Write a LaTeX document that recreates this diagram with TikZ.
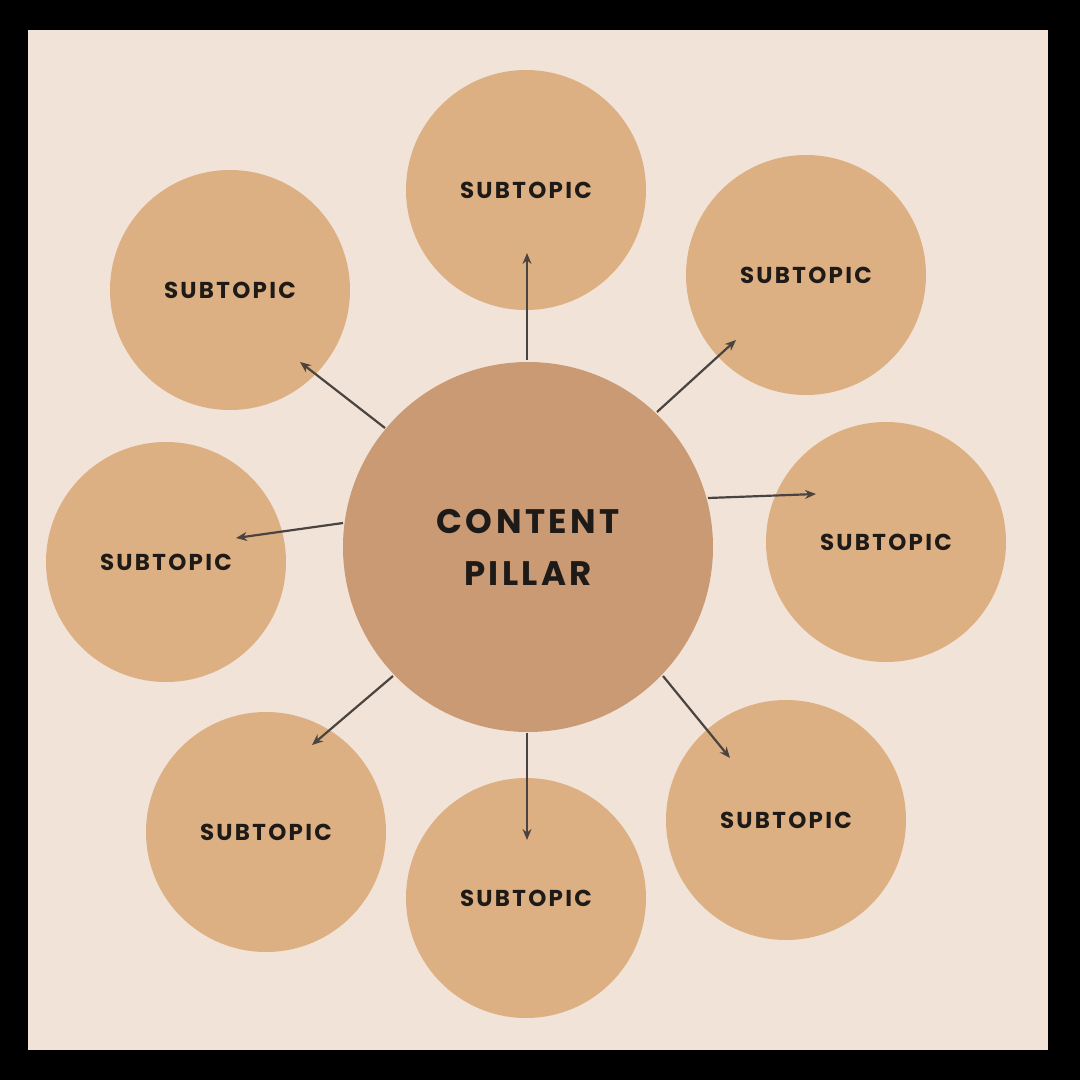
\documentclass[tikz,border=0pt]{standalone}
\usepackage{fontspec}
\newfontfamily\lblfont[LetterSpace=10]{Poppins}
\definecolor{bgc}{HTML}{F2E3D8}
\definecolor{subc}{HTML}{DDB083}
\definecolor{mainc}{HTML}{C99A74}
\definecolor{arrc}{HTML}{4A4440}
\definecolor{txtc}{HTML}{1E1A18}
\usetikzlibrary{arrows.meta}
\tikzset{
 sub/.style={circle,fill=subc,minimum size=240pt,inner sep=0pt,font=\lblfont\bfseries\fontsize{23}{27}\selectfont,text=txtc},
 pillar/.style={circle,fill=mainc,minimum size=370pt,inner sep=0pt,align=center,font=\lblfont\bfseries\fontsize{34}{52}\selectfont,text=txtc},
 conn/.style={draw=arrc,line width=2.2pt,-{Stealth[length=11pt,width=9pt]}}
}
\begin{document}
\begin{tikzpicture}[x=1pt,y=-1pt]
\fill[black] (0,0) rectangle (1080,1080);
\fill[bgc] (28,30) rectangle (1048,1050);
\useasboundingbox (0,0) rectangle (1080,1080);
\node[pillar] (c) at (528,547) {CONTENT\\PILLAR};
\node[sub] (s1) at (526,190) {SUBTOPIC};
\node[sub] (s2) at (806,275) {SUBTOPIC};
\node[sub] (s3) at (886,542) {SUBTOPIC};
\node[sub] (s4) at (786,820) {SUBTOPIC};
\node[sub] (s5) at (526,898) {SUBTOPIC};
\node[sub] (s6) at (266,832) {SUBTOPIC};
\node[sub] (s7) at (166,562) {SUBTOPIC};
\node[sub] (s8) at (230,290) {SUBTOPIC};
\coordinate (e1) at (527,253);
\coordinate (e2) at (736,340);
\coordinate (e3) at (816,494);
\coordinate (e4) at (730,758);
\coordinate (e5) at (527,840);
\coordinate (e6) at (312,745);
\coordinate (e7) at (236,538);
\coordinate (e8) at (300,362);
\coordinate (b1) at (527,360);
\coordinate (b2) at (657,412);
\coordinate (b3) at (708,498);
\coordinate (b4) at (663,676);
\coordinate (b5) at (527,733);
\coordinate (b6) at (393,676);
\coordinate (b7) at (343,523);
\coordinate (b8) at (385,428);
\foreach \i in {1,...,8}{\draw[conn] (b\i) -- (e\i);}
\end{tikzpicture}
\end{document}
